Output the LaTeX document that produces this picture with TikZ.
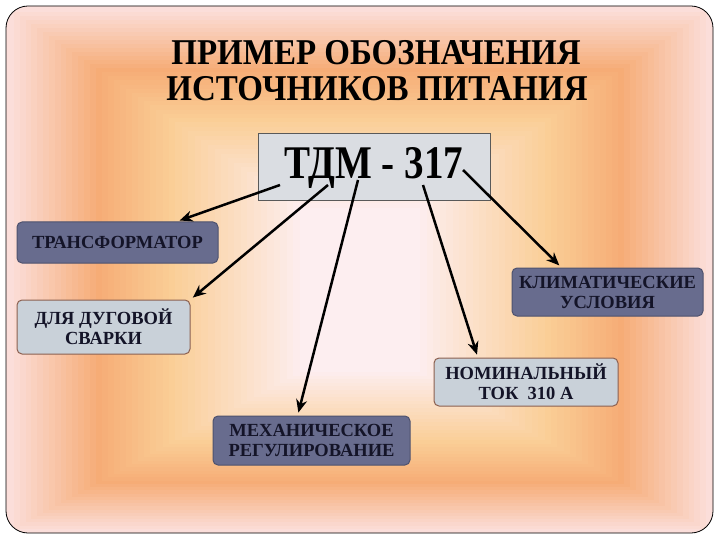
\documentclass[tikz,border=0pt]{standalone}
\usepackage{graphicx}
\usepackage{fontspec}
\setmainfont{Liberation Serif}
\usetikzlibrary{arrows.meta,calc}

\definecolor{bgpink}{RGB}{251,222,218}
\definecolor{bgorange}{RGB}{246,172,118}
\definecolor{bgyellow}{RGB}{250,206,150}
\definecolor{bgcentre}{RGB}{253,238,240}
\definecolor{slate}{RGB}{104,108,142}
\definecolor{slateedge}{RGB}{78,82,110}
\definecolor{pale}{RGB}{201,209,217}
\definecolor{paleedge}{RGB}{140,96,80}
\definecolor{plate}{RGB}{218,221,226}
\definecolor{ink}{RGB}{20,20,40}

\newcommand{\tall}[2][1.2]{\scalebox{1}[#1]{#2}}

\tikzset{
  titleline/.style={anchor=base, inner sep=0pt, font=\bfseries\fontsize{33}{35}\selectfont},
  labelbox/.style={line width=1pt, rounded corners=5pt, align=center, inner sep=0pt,
    text=ink, font=\bfseries\fontsize{18.5}{20}\selectfont},
  darkbox/.style={labelbox, draw=slateedge, fill=slate},
  lightbox/.style={labelbox, draw=paleedge, fill=pale},
  pointer/.style={line width=2.5pt, -{Stealth[length=13pt,width=11pt]}, shorten >=3pt},
}

\begin{document}
\begin{tikzpicture}[x=1pt,y=-1pt]
  \useasboundingbox[fill=white] (0,0) rectangle (720,540);

  % soft rectangular background
  \begin{scope}
    \clip[rounded corners=22pt] (6,6) rectangle (713,533);
    \fill[bgpink] (0,0) rectangle (720,540);
    \foreach \k in {0,...,15} {
      \pgfmathsetmacro\t{0.3*\k/15}
      \pgfmathsetmacro\p{100*\k/15}
      \fill[bgorange!\p!bgpink] (8+292*\t,8+200*\t) rectangle (712-292*\t,532-160*\t);
    }
    \foreach \k in {1,...,12} {
      \pgfmathsetmacro\t{0.3+0.25*\k/12}
      \pgfmathsetmacro\p{100*\k/12}
      \fill[bgyellow!\p!bgorange] (8+292*\t,8+200*\t) rectangle (712-292*\t,532-160*\t);
    }
    \foreach \k in {1,...,20} {
      \pgfmathsetmacro\t{0.55+0.45*\k/20}
      \pgfmathsetmacro\p{100*\k/20}
      \fill[bgcentre!\p!bgyellow] (8+292*\t,8+200*\t) rectangle (712-292*\t,532-160*\t);
    }
  \end{scope}
  \draw[line width=0.8pt, rounded corners=22pt] (6,6) rectangle (713,533);

  % title
  \node[titleline] (title1) at (376,65) {\tall[1.1]{ПРИМЕР ОБОЗНАЧЕНИЯ}};
  \node[titleline] (title2) at (377,101) {\tall[1.1]{ИСТОЧНИКОВ ПИТАНИЯ}};

  % designation and its parts
  \node[draw=black!65, line width=1pt, fill=plate, minimum width=232pt, minimum height=67pt,
    font=\bfseries\fontsize{39}{40}\selectfont] (tdm) at (374,167.5) {\tall{ТДМ - 317}};

  \node[darkbox, minimum width=201pt, minimum height=41pt] (trans) at (117.5,242.5) {ТРАНСФОРМАТОР};
  \node[lightbox, minimum width=173pt, minimum height=54pt] (arc) at (103.5,327) {ДЛЯ ДУГОВОЙ\\СВАРКИ};
  \node[darkbox, minimum width=191pt, minimum height=48pt] (climate) at (607.5,292) {КЛИМАТИЧЕСКИЕ\\УСЛОВИЯ};
  \node[lightbox, minimum width=184pt, minimum height=48pt] (current) at (526,382) {НОМИНАЛЬНЫЙ\\ТОК\ \ 310 А};
  \node[darkbox, minimum width=197pt, minimum height=49pt] (mech) at (311.5,440.5) {МЕХАНИЧЕСКОЕ\\РЕГУЛИРОВАНИЕ};

  % arrows start inside the designation
  \coordinate (s1) at (280,185);
  \coordinate (s2) at (328,185);
  \coordinate (s3) at (358,180);
  \coordinate (s4) at (423,185);
  \coordinate (s5) at (463,170);

  \draw[pointer] (s1) -- (trans);
  \draw[pointer] (s2) -- (arc.north east);
  \draw[pointer] (s3) -- ($(mech.north west)!0.43!(mech.north east)$);
  \draw[pointer] (s4) -- ($(current.north west)!0.24!(current.north east)$);
  \draw[pointer] (s5) -- ($(climate.north west)!0.26!(climate.north east)$);
\end{tikzpicture}
\end{document}
